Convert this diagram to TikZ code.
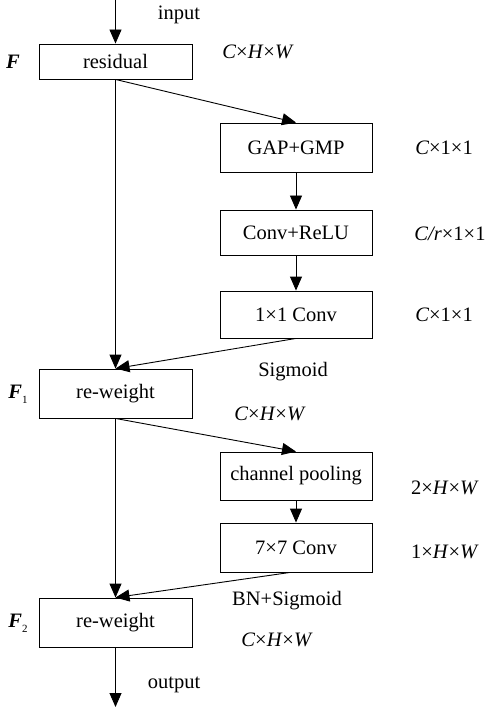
\documentclass[tikz,border=0pt]{standalone}
\usepackage{fontspec}
\setmainfont{Liberation Serif}
\usetikzlibrary{arrows.meta}
\newcommand{\bfF}{\textbf{\textit{F}}}
\newcommand{\subn}[1]{\raisebox{-5pt}{\fontsize{11}{11}\selectfont #1}}
\begin{document}
\begin{tikzpicture}[x=1pt,y=-1pt,
  font=\fontsize{20.5}{23}\selectfont,
  box/.style={draw,line width=0.9pt,inner sep=0pt},
  lbox/.style={box,minimum width=153pt},
  rbox/.style={box,minimum width=152pt},
  lab/.style={inner sep=0pt},
  arr/.style={line width=0.9pt,-{Triangle[length=14pt,width=12pt]}}]
\useasboundingbox (0,0) rectangle (489,711);
% boxes
\node[lbox,minimum height=35pt] (res) at (115.5,61.5) {residual};
\node[rbox,minimum height=49pt] (gap) at (296,147.5) {GAP+GMP};
\node[rbox,minimum height=45pt] (cr) at (296,232.5) {Conv+ReLU};
\node[rbox,minimum height=47pt] (c1) at (296,314.5) {1×1 Conv};
\node[lbox,minimum height=49pt] (rw1) at (115.5,393.5) {re-weight};
\node[rbox,minimum height=48pt] (cp) at (296,476) {channel pooling};
\node[rbox,minimum height=49pt] (c7) at (296,547.5) {7×7 Conv};
\node[lbox,minimum height=49pt] (rw2) at (115.5,622.5) {re-weight};
\coordinate (in) at (115.5,0);
\coordinate (out) at (115.5,707);
% labels
\node[lab] (tin) at (179,15) {input};
\node[lab] (tF) at (13,62) {\bfF};
\node[lab] (d0) at (258,52) {\textit{C}×\textit{H}×\textit{W}};
\node[lab] (d1) at (444,148) {\textit{C}×1×1};
\node[lab] (d2) at (450,234) {\textit{C/r}×1×1};
\node[lab] (d3) at (444,315) {\textit{C}×1×1};
\node[lab] (tsig) at (293,372) {Sigmoid};
\node[lab] (tF1) at (18,394) {\bfF\subn{1}};
\node[lab] (d4) at (270,414) {\textit{C}×\textit{H}×\textit{W}};
\node[lab] (d5) at (445,488) {2×\textit{H}×\textit{W}};
\node[lab] (d6) at (445,552) {1×\textit{H}×\textit{W}};
\node[lab] (tbn) at (287,601) {BN+Sigmoid};
\node[lab] (tF2) at (18,623) {\bfF\subn{2}};
\node[lab] (d7) at (277,640) {\textit{C}×\textit{H}×\textit{W}};
\node[lab] (tout) at (174,685) {output};
% connectors
\draw[arr] (in) -- (res.north);
\draw[arr] (res.south) -- (gap.north);
\draw[arr] (gap.south) -- (cr.north);
\draw[arr] (cr.south) -- (c1.north);
\draw[arr] (c1.south) -- (rw1.north);
\draw[arr] (res.south) -- (rw1.north);
\draw[arr] (rw1.south) -- (cp.north);
\draw[arr] (cp.south) -- (c7.north);
\draw[arr] ([xshift=-6pt]c7.south) -- (rw2.north);
\draw[arr] (rw1.south) -- (rw2.north);
\draw[arr] (rw2.south) -- (out);
\end{tikzpicture}
\end{document}
